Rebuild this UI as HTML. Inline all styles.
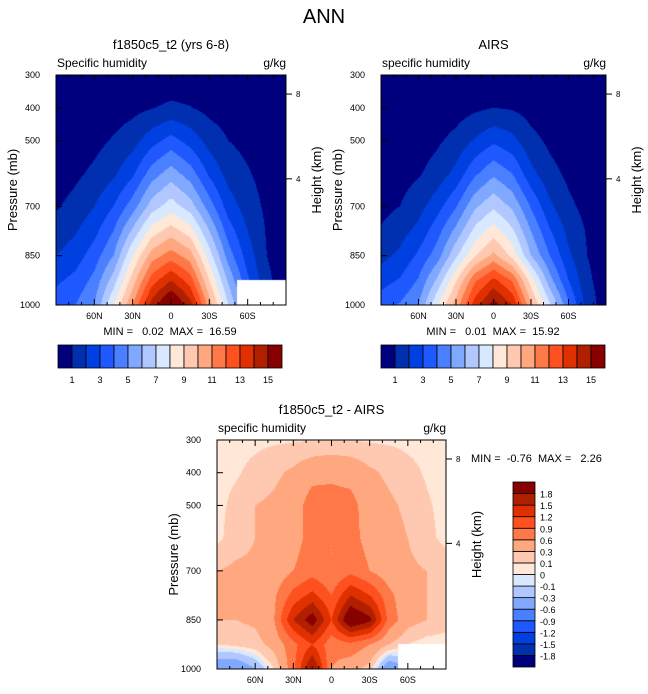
<!DOCTYPE html>
<html><head><meta charset="utf-8">
<style>
body{margin:0;background:#fff;width:648px;height:694px;overflow:hidden;position:relative;font-family:"Liberation Sans",sans-serif;color:#000}
text{white-space:pre}
</style></head>
<body>
<svg id="s" width="648" height="694" style="position:absolute;left:0;top:0"></svg>
<script>
const lats=[90,75,60,45,30,15,0,-15,-30,-45,-60,-75,-90];
const levs=[300,400,500,600,700,775,850,925,1000];
const modelQ=[
[0.1,0.1,0.1,0.15,0.2,0.25,0.3,0.25,0.2,0.15,0.1,0.1,0.1],
[0.1,0.2,0.3,0.5,0.7,0.95,1.2,1.05,0.7,0.5,0.3,0.2,0.1],
[0.3,0.5,0.7,1.1,1.6,2.6,3.4,2.6,1.6,1.0,0.7,0.4,0.2],
[0.5,0.8,1.2,1.8,2.8,4.5,5.5,4.5,2.8,1.6,1.1,0.6,0.3],
[0.9,1.3,2.0,3.0,4.5,6.5,7.5,6.5,4.5,2.5,1.5,0.8,0.3],
[1.4,1.9,2.7,4.0,6.2,8.5,9.5,8.5,6.0,3.5,2.0,0.9,0.4],
[2.0,2.5,3.5,5.0,8.0,10.5,11.5,10.5,7.5,4.5,2.5,1.0,0.5],
[2.8,3.3,4.3,6.5,9.5,12.5,14,12.5,9.0,5.8,3.2,1.2,0.5],
[3.5,4.0,5.0,8.0,11,14.5,16.5,14.5,10.5,7.0,4.0,1.5,0.5]];
const airsQ=[
[0.05,0.05,0.1,0.1,0.15,0.2,0.25,0.2,0.15,0.1,0.1,0.05,0.05],
[0.1,0.15,0.25,0.4,0.55,0.8,1.0,0.9,0.6,0.4,0.25,0.15,0.1],
[0.25,0.4,0.55,0.85,1.3,2.1,2.8,2.3,1.3,0.8,0.5,0.3,0.2],
[0.45,0.6,0.9,1.4,2.3,3.8,4.8,4.0,2.3,1.3,0.8,0.5,0.3],
[0.7,1.0,1.6,2.6,3.9,5.8,6.8,5.8,3.9,2.2,1.2,0.7,0.3],
[1.1,1.6,2.3,3.6,5.3,7.3,8.5,7.2,5.0,3.1,1.7,0.9,0.4],
[1.7,2.2,3.2,4.5,6.8,8.9,10.3,8.7,6.0,4.0,2.2,1.0,0.5],
[2.6,3.1,4.1,6.2,8.9,11.8,13.3,11.9,8.5,5.4,3.0,1.2,0.5],
[3.6,4.1,5.0,7.9,10.5,13.5,15.5,14.0,10.2,7.2,4.2,1.5,0.5]];
const diffQ=[
[0.05,0.05,0.06,0.07,0.08,0.09,0.1,0.09,0.08,0.07,0.06,0.05,0.05],
[0.05,0.08,0.15,0.25,0.35,0.5,0.55,0.5,0.35,0.25,0.15,0.08,0.05],
[0.05,0.15,0.3,0.35,0.45,0.75,0.7,0.7,0.45,0.35,0.25,0.12,0.05],
[0.05,0.2,0.3,0.4,0.5,0.7,0.6,0.7,0.5,0.4,0.3,0.15,0.05],
[0.3,0.35,0.35,0.4,0.6,0.75,0.6,0.8,0.6,0.4,0.35,0.3,0.2],
[0.3,0.35,0.4,0.55,1.0,1.3,0.9,1.5,1.2,0.7,0.35,0.3,0.2],
[0.3,0.3,0.35,0.6,1.5,2.0,1.2,2.2,1.9,0.8,0.4,0.3,0.2],
[0.1,0.15,0.2,0.4,0.8,1.2,0.7,0.8,0.6,0.3,0.1,0.0,0.0],
[-0.6,-0.6,-0.3,0.1,0.8,1.9,0.6,0.4,0.2,-0.6,-0.3,0.0,0.0]];
const qLevels=[1,2,3,4,5,6,7,8,9,10,11,12,13,14,15];
const qLabels=["1","3","5","7","9","11","13","15"];
const dLevels=[-1.8,-1.5,-1.2,-0.9,-0.6,-0.3,-0.1,0,0.1,0.3,0.6,0.9,1.2,1.5,1.8];
const pTicks=[300,400,500,700,850,1000];
const latTicks=[60,30,0,-30,-60];
const latTickLabels=["60N","30N","0","30S","60S"];
const hTicks=[8,4];
const colors=["#00007f","#0030b0","#0040e0","#2058ff","#4a80ff","#80a8ff","#b0c8ff","#d8e8ff","#ffe8d8","#ffc8b0","#ffa880","#ff7848","#ff5020","#e03000","#b02000","#880000"];

const S=document.getElementById('s');
const NS="http://www.w3.org/2000/svg";
function mk(tag,attrs,parent){const e=document.createElementNS(NS,tag);for(const k in attrs)e.setAttribute(k,attrs[k]);(parent||S).appendChild(e);return e;}
function txt(x,y,s,size,anchor,extra){const e=mk('text',Object.assign({x:x,y:y,'font-size':size,'text-anchor':anchor||'start','font-family':'Liberation Sans, sans-serif'},extra||{}));e.textContent=s;return e;}
function sample(g,lat,p){
  let i=0;while(i<lats.length-2&&lat<lats[i+1])i++;
  let j=0;while(j<levs.length-2&&p>levs[j+1])j++;
  const fx=(lats[i]-lat)/(lats[i]-lats[i+1]), fy=(p-levs[j])/(levs[j+1]-levs[j]);
  const a=g[j][i],b=g[j][i+1],c=g[j+1][i],d=g[j+1][i+1];
  return (a*(1-fx)+b*fx)*(1-fy)+(c*(1-fx)+d*fx)*fy;
}
function cidx(v,L){let k=0;while(k<L.length&&v>=L[k])k++;return k;}
function hexToRgb(h){return [parseInt(h.substr(1,2),16),parseInt(h.substr(3,2),16),parseInt(h.substr(5,2),16)];}
const rgb=colors.map(hexToRgb);

function panel(o){
  const X=lat=>o.x0+(90-lat)/180*o.w;
  const Y=p=>o.y0+(p-300)/700*o.h;
  const fo=mk('foreignObject',{x:o.x0,y:o.y0,width:o.w,height:o.h});
  
  
  const cv=document.createElement('canvas');cv.width=o.w;cv.height=o.h;cv.style.display='block';
  fo.appendChild(cv);
  const ctx=cv.getContext('2d');const im=ctx.createImageData(o.w,o.h);
  for(let py=0;py<o.h;py++){const p=300+(py+0.5)/o.h*700;
    for(let px=0;px<o.w;px++){const lat=90-(px+0.5)/o.w*180;
      let c=rgb[cidx(sample(o.grid,lat,p),o.levels)];
      if(o.mask&&lat<-52&&p>925)c=[255,255,255];
      const q=(py*o.w+px)*4;im.data[q]=c[0];im.data[q+1]=c[1];im.data[q+2]=c[2];im.data[q+3]=255;}}
  ctx.putImageData(im,0,0);
  const fr=mk('rect',{x:o.x0,y:o.y0,width:o.w,height:o.h,fill:'none',stroke:'#000','stroke-width':1});
  
  for(let l=-80;l<=80;l+=10){const x=X(l);const major=latTicks.includes(l);const len=major?6:3;
    mk('line',{x1:x,x2:x,y1:o.y0+o.h,y2:o.y0+o.h-len,stroke:'#000'});
    mk('line',{x1:x,x2:x,y1:o.y0,y2:o.y0+len,stroke:'#000'});}
  latTicks.forEach((l,i)=>{const t=txt(X(l),o.y0+o.h+14,latTickLabels[i],9,'middle');});
  pTicks.forEach(p=>{mk('line',{x1:o.x0,x2:o.x0+6,y1:Y(p),y2:Y(p),stroke:'#000'});
    const t=txt(o.x0-16,Y(p)+3,String(p),9,'end');});
  hTicks.forEach(h=>{const p=1060*Math.exp(-h/7.37);const y=Y(p);
    mk('line',{x1:o.x0+o.w,x2:o.x0+o.w+6,y1:y,y2:y,stroke:'#000'});
    const t=txt(o.x0+o.w+10,y+3,String(h),8,'start');});
  let t=txt(o.x0+o.w/2,o.y0-26,o.title,13,'middle');
  t=txt(o.x0+1,o.y0-8,o.sub,12,'start');
  t=txt(o.x0+o.w,o.y0-8,'g/kg',12,'end');
  t=txt(0,0,'Pressure (mb)',13,'middle',{transform:`translate(${o.x0-39},${o.y0+o.h/2}) rotate(-90)`});
  t=txt(0,0,'Height (km)',13,'middle',{transform:`translate(${o.x0+o.w+35},${o.y0+o.h/2-10}) rotate(-90)`});
  t=txt(o.mmx,o.mmy,o.mm,11,o.mma);
}
function hbar(x0,y0,w,h,name){
  const bw=w/colors.length;
  colors.forEach((c,i)=>{const r=mk('rect',{x:x0+i*bw,y:y0,width:bw,height:h,fill:c,stroke:'#000','stroke-width':0.8});
    });
  qLabels.forEach((s,i)=>{const t=txt(x0+(2*i+1)*bw,y0+h+15,s,9,'middle');});
}
function vbar(x0,y0,w,h){
  const bh=h/colors.length;
  colors.forEach((c,i)=>{const r=mk('rect',{x:x0,y:y0+h-(i+1)*bh,width:w,height:bh,fill:c,stroke:'#000','stroke-width':0.8});
    });
  dLevels.forEach((v,i)=>{const t=txt(x0+w+5,y0+h-(i+1)*bh+4,String(v),9,'start');});
}
let tt=txt(324,23,'ANN',20,'middle');
panel({name:'model',x0:56,y0:75,w:230,h:230,grid:modelQ,levels:qLevels,mask:true,title:'f1850c5_t2 (yrs 6-8)',sub:'Specific humidity',mm:'MIN =   0.02  MAX =  16.59',mmx:170,mmy:335,mma:'middle'});
panel({name:'airs',x0:381,y0:75,w:225,h:230,grid:airsQ,levels:qLevels,mask:false,title:'AIRS',sub:'specific humidity',mm:'MIN =   0.01  MAX =  15.92',mmx:493,mmy:335,mma:'middle'});
panel({name:'diff',x0:217,y0:440,w:229,h:229,grid:diffQ,levels:dLevels,mask:true,title:'f1850c5_t2 - AIRS',sub:'specific humidity',mm:'MIN =  -0.76  MAX =   2.26',mmx:471,mmy:462,mma:'start'});
hbar(58,345,224,23,'model');
hbar(381,345,224,23,'airs');
vbar(513,482,22,185);
</script>
</body></html>
